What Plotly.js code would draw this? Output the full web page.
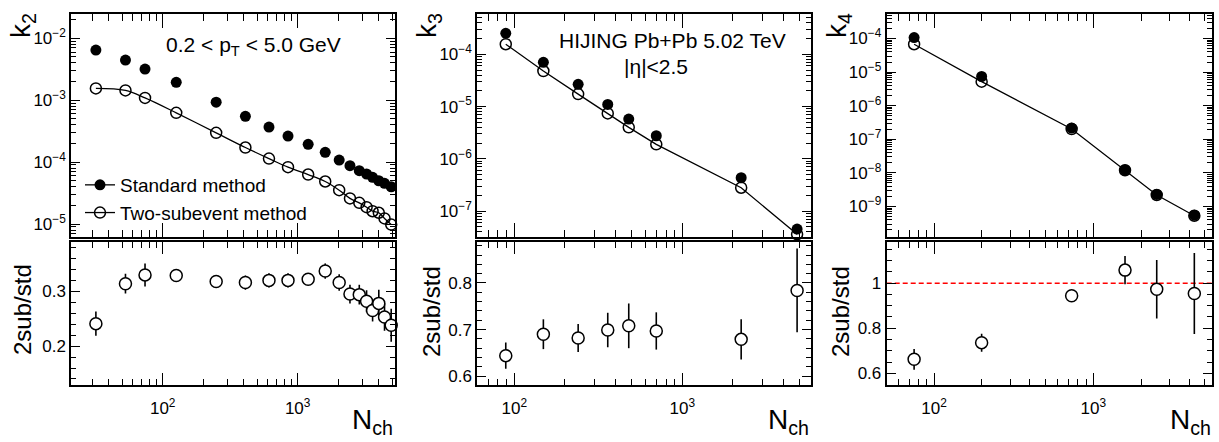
<!DOCTYPE html>
<html><head><meta charset="utf-8">
<script src="https://cdn.plot.ly/plotly-3.0.1.min.js"></script>
<style>html,body{margin:0;padding:0;background:#fff}#plot{width:1219px;height:442px}</style>
</head><body><div id="plot"></div>
<script>
// ---------- data ----------
// k2 panel
const k2_nch = [32, 53, 74, 126, 249, 410, 613, 848, 1196, 1600, 2030, 2440, 2860, 3240, 3590, 3990, 4400, 4930];
const k2_std = [6.47e-3, 4.46e-3, 3.19e-3, 1.95e-3, 9.3e-4, 5.5e-4, 3.68e-4, 2.64e-4, 1.94e-4, 1.44e-4, 1.08e-4, 8.75e-5, 7.27e-5, 6.43e-5, 5.69e-5, 5.0e-5, 4.55e-5, 4.0e-5];
const k2_sub = [1.55e-3, 1.44e-3, 1.09e-3, 6.25e-4, 2.97e-4, 1.72e-4, 1.14e-4, 8.28e-5, 6.3e-5, 4.86e-5, 3.52e-5, 2.59e-5, 2.2e-5, 1.87e-5, 1.61e-5, 1.52e-5, 1.23e-5, 9.8e-6];
const k2_ratio = [0.241, 0.314, 0.330, 0.329, 0.318, 0.316, 0.320, 0.320, 0.322, 0.337, 0.316, 0.295, 0.294, 0.282, 0.265, 0.278, 0.253, 0.238];
const k2_ratio_err = [0.022, 0.018, 0.021, 0.009, 0.010, 0.013, 0.013, 0.013, 0.010, 0.014, 0.015, 0.017, 0.018, 0.020, 0.020, 0.025, 0.025, 0.030];
// k3 panel
const k3_nch = [89, 149, 240, 360, 480, 700, 2240, 4820];
const k3_std = [2.52e-4, 7.03e-5, 2.66e-5, 1.1e-5, 5.75e-6, 2.76e-6, 4.33e-7, 4.5e-8];
const k3_sub = [1.56e-4, 4.79e-5, 1.73e-5, 7.4e-6, 4.0e-6, 1.89e-6, 2.79e-7, 3.57e-8];
const k3_ratio = [0.644, 0.690, 0.682, 0.699, 0.708, 0.697, 0.679, 0.784];
const k3_ratio_err = [0.028, 0.032, 0.030, 0.037, 0.048, 0.040, 0.043, 0.090];
// k4 panel
const k4_nch = [75, 199, 731, 1581, 2500, 4305];
const k4_std = [1.07e-4, 7.4e-6, 2.16e-7, 1.22e-8, 2.29e-9, 5.5e-10];
const k4_sub = [6.76e-5, 5.2e-6, 2.02e-7, 1.2e-8, 2.2e-9, 5.3e-10];
const k4_ratio = [0.662, 0.736, 0.944, 1.058, 0.973, 0.954];
const k4_ratio_err = [0.046, 0.040, 0.022, 0.063, 0.130, 0.180];
const k4_ref = 1;
// tick labels
const xTickVals = [100, 1000];
const xTickText = ['10<sup>2</sup>', '10<sup>3</sup>'];
const k2TickVals = [1e-5, 1e-4, 1e-3, 1e-2];
const k2TickText = ['10<sup>\u22125</sup>', '10<sup>\u22124</sup>', '10<sup>\u22123</sup>', '10<sup>\u22122</sup>'];
const k3TickVals = [1e-7, 1e-6, 1e-5, 1e-4];
const k3TickText = ['10<sup>\u22127</sup>', '10<sup>\u22126</sup>', '10<sup>\u22125</sup>', '10<sup>\u22124</sup>'];
const k4TickVals = [1e-9, 1e-8, 1e-7, 1e-6, 1e-5, 1e-4];
const k4TickText = ['10<sup>\u22129</sup>', '10<sup>\u22128</sup>', '10<sup>\u22127</sup>', '10<sup>\u22126</sup>', '10<sup>\u22125</sup>', '10<sup>\u22124</sup>'];
const r2TickVals = [0.2, 0.3];
const r2TickText = ['0.2', '0.3'];
const r3TickVals = [0.6, 0.7, 0.8];
const r3TickText = ['0.6', '0.7', '0.8'];
const r4TickVals = [0.6, 0.8, 1.0];
const r4TickText = ['0.6', '0.8', '1'];

// ---------- styling helpers ----------
const FONT = 'Liberation Sans, Arial, Helvetica, sans-serif';
function logMinor(lo, hi) {
  const v = [];
  for (let d = Math.floor(lo); d <= Math.ceil(hi); d++)
    for (let m = 2; m <= 9; m++) v.push(m * Math.pow(10, d));
  return v;
}
const W = 1219, H = 442;
const px = v => v / W, py = v => 1 - v / H;
const colL = [px(71.3), px(395)], colM = [px(477.3), px(810.7)], colR = [px(886.7), px(1211.7)];
const rowT = [py(236.7), py(14)], rowB = [py(385), py(241.5)];

function xAxis(dom, anchor, range, top) {
  return {
    type: 'log', domain: dom, anchor: anchor, range: range,
    showline: true, linecolor: 'black', linewidth: 2, mirror: 'allticks',
    ticks: 'inside', ticklen: top ? 14 : 12, tickwidth: 1, tickcolor: 'black',
    tickmode: 'array', tickvals: xTickVals, ticktext: xTickText,
    showticklabels: !top, ticklabelstandoff: 7,
    tickfont: {size: 17, color: 'black', family: FONT},
    minor: {ticks: 'inside', ticklen: top ? 7 : 6, tickwidth: 1, tickcolor: 'black',
            tickmode: 'array', tickvals: logMinor(range[0], range[1]), showgrid: false},
    showgrid: false, zeroline: false, fixedrange: true
  };
}
function yLogAxis(dom, anchor, range, tv, tt) {
  return {
    type: 'log', domain: dom, anchor: anchor, range: range,
    showline: true, linecolor: 'black', linewidth: 2, mirror: 'allticks',
    ticks: 'inside', ticklen: 9, tickwidth: 1, tickcolor: 'black',
    tickmode: 'array', tickvals: tv, ticktext: tt,
    tickfont: {size: 17, color: 'black', family: FONT},
    minor: {ticks: 'inside', ticklen: 5, tickwidth: 1, tickcolor: 'black',
            tickmode: 'array', tickvals: logMinor(range[0], range[1]), showgrid: false},
    showgrid: false, zeroline: false, fixedrange: true
  };
}
function yLinAxis(dom, anchor, range, tv, tt, minorStep) {
  return {
    type: 'linear', domain: dom, anchor: anchor, range: range,
    showline: true, linecolor: 'black', linewidth: 2, mirror: 'allticks',
    ticks: 'inside', ticklen: 9, tickwidth: 1, tickcolor: 'black',
    tickmode: 'array', tickvals: tv, ticktext: tt,
    tickfont: {size: 17, color: 'black', family: FONT},
    minor: {ticks: 'inside', ticklen: 5, tickwidth: 1, tickcolor: 'black',
            tickmode: 'linear', tick0: 0, dtick: minorStep, showgrid: false},
    showgrid: false, zeroline: false, fixedrange: true
  };
}

const stdMarker = {symbol: 'circle', size: 11, color: 'black'};
const subMarker = {symbol: 'circle-open', size: 11, color: 'black', line: {width: 1.5, color: 'black'}};
const ratioMarker = {symbol: 'circle', size: 12, color: 'white', line: {width: 1.5, color: 'black'}};
const errStyle = arr => ({type: 'data', array: arr, visible: true, color: 'black', thickness: 1.6, width: 0});

function topTraces(xa, ya, x, std, sub, shape) {
  return [
    {x: x, y: std, xaxis: xa, yaxis: ya, mode: 'markers', marker: stdMarker, showlegend: false, cliponaxis: false},
    {x: x, y: sub, xaxis: xa, yaxis: ya, mode: 'lines+markers', marker: subMarker,
     line: {color: 'black', width: 1.3, shape: shape || 'linear'}, showlegend: false, cliponaxis: false}
  ];
}
function ratioTrace(xa, ya, x, r, e) {
  return {x: x, y: r, xaxis: xa, yaxis: ya, mode: 'markers', marker: ratioMarker,
          error_y: errStyle(e), showlegend: false, cliponaxis: false};
}

const data = [
  ...topTraces('x', 'y', k2_nch, k2_std, k2_sub, 'spline'),
  ratioTrace('x2', 'y2', k2_nch, k2_ratio, k2_ratio_err),
  ...topTraces('x3', 'y3', k3_nch, k3_std, k3_sub),
  ratioTrace('x4', 'y4', k3_nch, k3_ratio, k3_ratio_err),
  ...topTraces('x5', 'y5', k4_nch, k4_std, k4_sub),
  ratioTrace('x6', 'y6', k4_nch, k4_ratio, k4_ratio_err),
  // legend entries
  {x: [null], y: [null], xaxis: 'x', yaxis: 'y', mode: 'lines+markers', name: 'Standard method',
   marker: stdMarker, line: {color: 'black', width: 1.3}},
  {x: [null], y: [null], xaxis: 'x', yaxis: 'y', mode: 'lines+markers', name: 'Two-subevent method',
   marker: subMarker, line: {color: 'black', width: 1.3}}
];

const rngL = [1.323, 3.721], rngM = [1.780, 3.764], rngR = [1.703, 3.743];

function ann(text, x, y, size, opts) {
  return Object.assign({text: text, xref: 'paper', yref: 'paper', x: px(x), y: py(y),
    showarrow: false, xanchor: 'center', yanchor: 'middle',
    font: {size: size, color: 'black', family: FONT}}, opts || {});
}

const layout = {
  width: W, height: H, margin: {l: 0, r: 0, t: 0, b: 0},
  paper_bgcolor: 'white', plot_bgcolor: 'white',
  font: {family: FONT, color: 'black'},
  xaxis: xAxis(colL, 'y', rngL, true),
  yaxis: yLogAxis(rowT, 'x', [-5.205, -1.607], k2TickVals, k2TickText),
  xaxis2: xAxis(colL, 'y2', rngL, false),
  yaxis2: yLinAxis(rowB, 'x2', [0.129, 0.391], r2TickVals, r2TickText, 0.02),
  xaxis3: xAxis(colM, 'y3', rngM, true),
  yaxis3: yLogAxis(rowT, 'x3', [-7.492, -3.228], k3TickVals, k3TickText),
  xaxis4: xAxis(colM, 'y4', rngM, false),
  yaxis4: yLinAxis(rowB, 'x4', [0.581, 0.889], r3TickVals, r3TickText, 0.02),
  xaxis5: xAxis(colR, 'y5', rngR, true),
  yaxis5: yLogAxis(rowT, 'x5', [-9.9, -3.27], k4TickVals, k4TickText),
  xaxis6: xAxis(colR, 'y6', rngR, false),
  yaxis6: yLinAxis(rowB, 'x6', [0.548, 1.185], r4TickVals, r4TickText, 0.05),
  showlegend: true,
  legend: {x: px(80), xanchor: 'left', y: py(166), yanchor: 'top', bgcolor: 'rgba(0,0,0,0)',
           font: {size: 19, family: FONT, color: 'black'}, itemwidth: 30, tracegroupgap: 0},
  shapes: [
    {type: 'line', xref: 'x6 domain', yref: 'y6', x0: 0, x1: 1, y0: k4_ref, y1: k4_ref,
     line: {color: 'red', width: 1.6, dash: '5px,3px'}, layer: 'below'}
  ],
  annotations: [
    ann('0.2 &lt; p<sub>T</sub> &lt; 5.0 GeV', 253, 46, 21),
    ann('HIJING Pb+Pb 5.02 TeV', 672, 40, 21),
    ann('|\u03b7|&lt;2.5', 656, 66, 21),
    ann('k<sub>2</sub>', 22, 26, 28, {textangle: -90}),
    ann('k<sub>3</sub>', 428, 26, 28, {textangle: -90}),
    ann('k<sub>4</sub>', 838, 26, 28, {textangle: -90}),
    ann('2sub/std', 22, 310, 24, {textangle: -90}),
    ann('2sub/std', 431, 312, 24, {textangle: -90}),
    ann('2sub/std', 840, 312, 24, {textangle: -90}),
    ann('N<sub>ch</sub>', 395, 421, 28, {xanchor: 'right'}),
    ann('N<sub>ch</sub>', 811, 421, 28, {xanchor: 'right'}),
    ann('N<sub>ch</sub>', 1213, 421, 28, {xanchor: 'right'})
  ]
};

Plotly.newPlot('plot', data, layout, {staticPlot: true, displayModeBar: false});
</script>
</body></html>
